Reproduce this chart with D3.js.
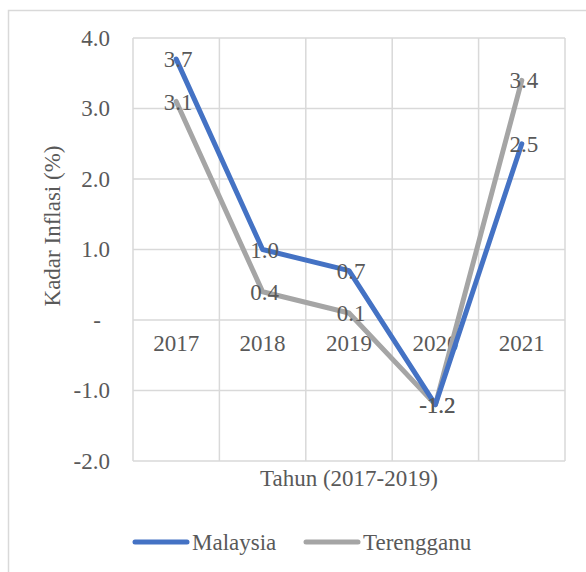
<!DOCTYPE html>
<html>
<head>
<meta charset="utf-8">
<script src="https://cdn.jsdelivr.net/npm/d3@7"></script>
</head>
<body style="margin:0;background:#fff">
<script>
// data
var years = ["2017", "2018", "2019", "2020", "2021"];
var malaysia = [3.7, 1.0, 0.7, -1.2, 2.5];
var terengganu = [3.1, 0.4, 0.1, -1.2, 3.4];
var yTicks = [-2, -1, 0, 1, 2, 3, 4];
var seriesNames = ["Malaysia", "Terengganu"];
var colors = ["#4472C4", "#A5A5A5"];

var width = 586, height = 572;
var serif = "Liberation Serif, Times New Roman, DejaVu Serif, serif";

var fmt = function(d) { return d3.format(".1f")(d).replace("\u2212", "-"); };

var svg = d3.select("body").append("svg")
    .attr("width", width)
    .attr("height", height)
    .attr("font-family", serif);

// chart frame (cropped on right and bottom)
svg.append("rect")
    .attr("x", 8.5).attr("y", 10.5)
    .attr("width", 600).attr("height", 600)
    .style("fill", "none")
    .style("stroke", "#D9D9D9")
    .style("stroke-width", 1.5);

var x = d3.scaleBand()
    .domain(years)
    .range([133, 565]);

var y = d3.scaleLinear()
    .domain([-2, 4])
    .range([461, 38]);

var g = svg.append("g");

// horizontal grid
g.selectAll(".hgrid")
    .data(yTicks)
    .enter().append("line")
    .attr("x1", x.range()[0]).attr("x2", x.range()[1])
    .attr("y1", function(d) { return y(d); })
    .attr("y2", function(d) { return y(d); })
    .style("stroke", "#D9D9D9")
    .style("stroke-width", 1.5);

// vertical grid
var vx = years.map(function(d) { return x(d); }).concat([x.range()[1]]);
g.selectAll(".vgrid")
    .data(vx)
    .enter().append("line")
    .attr("x1", function(d) { return d; })
    .attr("x2", function(d) { return d; })
    .attr("y1", y(4)).attr("y2", y(-2))
    .style("stroke", "#D9D9D9")
    .style("stroke-width", 1.5);

// y axis labels
var yAxis = d3.axisLeft(y)
    .tickValues(yTicks)
    .tickSize(0)
    .tickPadding(0)
    .tickFormat(function(d) { return d == 0 ? "-" : fmt(d); });

var ya = svg.append("g")
    .attr("transform", "translate(110,0)")
    .call(yAxis);
ya.select(".domain").remove();
ya.selectAll("text")
    .attr("dx", function(d) { return d == 0 ? -9 : 0; });

// x axis labels, sitting just under the zero line
var xAxis = d3.axisBottom(x).tickSize(0).tickPadding(0);
var xa = svg.append("g")
    .attr("transform", "translate(0," + y(0) + ")")
    .call(xAxis);
xa.select(".domain").remove();
xa.selectAll("text")
    .attr("y", 31)
    .attr("dy", 0);

// axis titles
svg.append("text")
    .attr("transform", "translate(60,226) rotate(-90)")
    .attr("text-anchor", "middle")
    .text("Kadar Inflasi (%)");

svg.append("text")
    .attr("x", 349).attr("y", 486)
    .attr("text-anchor", "middle")
    .text("Tahun (2017-2019)");

// lines
var line = d3.line()
    .x(function(d, i) { return x(years[i]) + x.bandwidth() / 2; })
    .y(function(d) { return y(d); });

var allSeries = [malaysia, terengganu];

// draw terengganu first so malaysia sits on top
[1, 0].forEach(function(k) {
    svg.append("path")
        .datum(allSeries[k])
        .attr("d", line)
        .style("fill", "none")
        .style("stroke", colors[k])
        .style("stroke-width", 5)
        .style("stroke-linejoin", "round")
        .style("stroke-linecap", "round");
});

// data labels centered on points
allSeries.forEach(function(s) {
    svg.append("g").selectAll("text")
        .data(s)
        .enter().append("text")
        .attr("x", function(d, i) { return x(years[i]) + x.bandwidth() / 2 + 2; })
        .attr("y", function(d) { return y(d); })
        .attr("dy", "0.35em")
        .attr("text-anchor", "middle")
        .text(fmt);
});

// legend
var legX = [133, 304];
seriesNames.forEach(function(name, k) {
    svg.append("line")
        .attr("x1", legX[k] + 2).attr("x2", legX[k] + 54)
        .attr("y1", 542).attr("y2", 542)
        .style("stroke", colors[k])
        .style("stroke-width", 5)
        .style("stroke-linecap", "round");
    svg.append("text")
        .attr("x", legX[k] + 59).attr("y", 550)
        .text(name);
});

// common text styling
svg.selectAll("text")
    .attr("font-family", serif)
    .attr("font-size", 23)
    .attr("fill", "#595959")
    .style("font-family", serif)
    .style("font-size", "23px")
    .style("fill", "#595959");
</script>
</body>
</html>
